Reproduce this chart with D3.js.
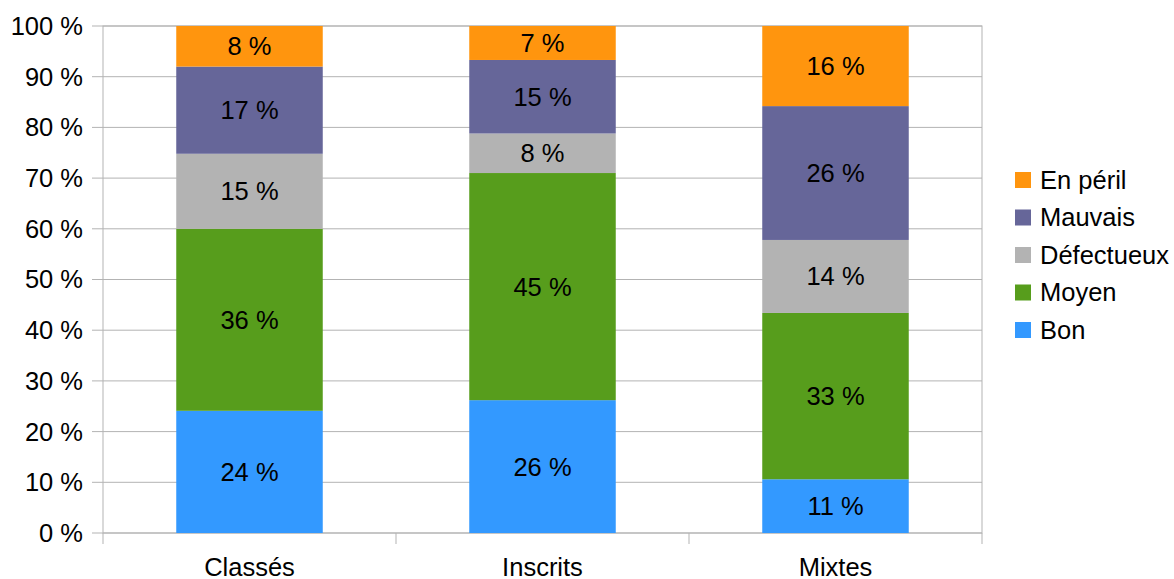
<!DOCTYPE html>
<html>
<head>
<meta charset="utf-8">
<script src="https://cdn.jsdelivr.net/npm/d3@7"></script>
<style>
  body { margin: 0; background: #fff; }
  svg { font-family: "Liberation Sans", Arial, sans-serif; }
</style>
</head>
<body>
<svg id="chart"></svg>
<script>
// data
const categories = ['Classés', 'Inscrits', 'Mixtes'];
const seriesNames = ['Bon', 'Moyen', 'Défectueux', 'Mauvais', 'En péril'];
const bon        = [24.1, 26.2, 10.6];
const moyen      = [35.9, 44.8, 32.8];
const defectueux = [14.8, 7.8, 14.4];
const mauvais    = [17.2, 14.5, 26.4];
const enPeril    = [8.0, 6.7, 15.8];
const yTicks = [0, 10, 20, 30, 40, 50, 60, 70, 80, 90, 100];
const colors = ['#3399ff', '#579d1c', '#b3b3b3', '#666699', '#ff950e'];

const table = categories.map((c, i) => ({
  cat: c,
  'Bon': bon[i], 'Moyen': moyen[i], 'Défectueux': defectueux[i],
  'Mauvais': mauvais[i], 'En péril': enPeril[i]
}));

const W = 1174, H = 579;
const m = { left: 103, right: 192, top: 26, bottom: 46 };
const iw = W - m.left - m.right, ih = H - m.top - m.bottom;
const fs = 25.5;

const svg = d3.select('#chart').attr('width', W).attr('height', H);
const g = svg.append('g').attr('transform', `translate(${m.left},${m.top})`);

const x = d3.scaleBand().domain(categories).range([0, iw]).paddingInner(0.5).paddingOuter(0.25);
const xb = d3.scaleBand().domain(categories).range([0, iw]);
const y = d3.scaleLinear().domain([0, 100]).range([ih, 0]);
const color = d3.scaleOrdinal().domain(seriesNames).range(colors);

// gridlines
g.append('g').selectAll('line').data(yTicks).join('line')
  .attr('x1', -11).attr('x2', iw)
  .attr('y1', d => y(d)).attr('y2', d => y(d))
  .attr('stroke', '#b3b3b3').attr('stroke-width', 1);

// plot border
g.append('rect').attr('width', iw).attr('height', ih)
  .attr('fill', 'none').attr('stroke', '#b3b3b3');

// y labels
g.append('g').selectAll('text').data(yTicks).join('text')
  .attr('x', -20).attr('y', d => y(d)).attr('dy', '0.35em')
  .attr('text-anchor', 'end').attr('font-size', fs).attr('fill', '#000')
  .text(d => d + ' %');

// x ticks at band boundaries
const bounds = categories.map(c => xb(c)).concat([iw]);
g.append('g').selectAll('line').data(bounds).join('line')
  .attr('x1', d => d).attr('x2', d => d)
  .attr('y1', ih).attr('y2', ih + 11)
  .attr('stroke', '#b3b3b3');

g.append('g').selectAll('text').data(categories).join('text')
  .attr('x', d => xb(d) + xb.bandwidth() / 2).attr('y', ih + 43)
  .attr('text-anchor', 'middle').attr('font-size', fs).attr('fill', '#000')
  .text(d => d);

// stacked bars
const stacked = d3.stack().keys(seriesNames)(table);
const layers = g.append('g').selectAll('g').data(stacked).join('g')
  .attr('fill', d => color(d.key));

layers.selectAll('rect').data(d => d).join('rect')
  .attr('x', d => x(d.data.cat))
  .attr('width', x.bandwidth())
  .attr('y', d => y(d[1]))
  .attr('height', d => y(d[0]) - y(d[1]));

layers.selectAll('text').data(d => d).join('text')
  .attr('x', d => x(d.data.cat) + x.bandwidth() / 2)
  .attr('y', d => (y(d[0]) + y(d[1])) / 2).attr('dy', '0.35em')
  .attr('text-anchor', 'middle').attr('font-size', fs).attr('fill', '#000')
  .text(d => Math.round(d[1] - d[0]) + ' %');

// legend
const legend = svg.append('g').attr('transform', 'translate(1015,180)');
const items = legend.selectAll('g').data(seriesNames.slice().reverse()).join('g')
  .attr('transform', (d, i) => `translate(0,${i * 37.5})`);
items.append('rect').attr('x', 0).attr('y', -8).attr('width', 16).attr('height', 16)
  .attr('fill', d => color(d));
items.append('text').attr('x', 25).attr('dy', '0.35em')
  .attr('font-size', fs).attr('fill', '#000').text(d => d);
</script>
</body>
</html>
